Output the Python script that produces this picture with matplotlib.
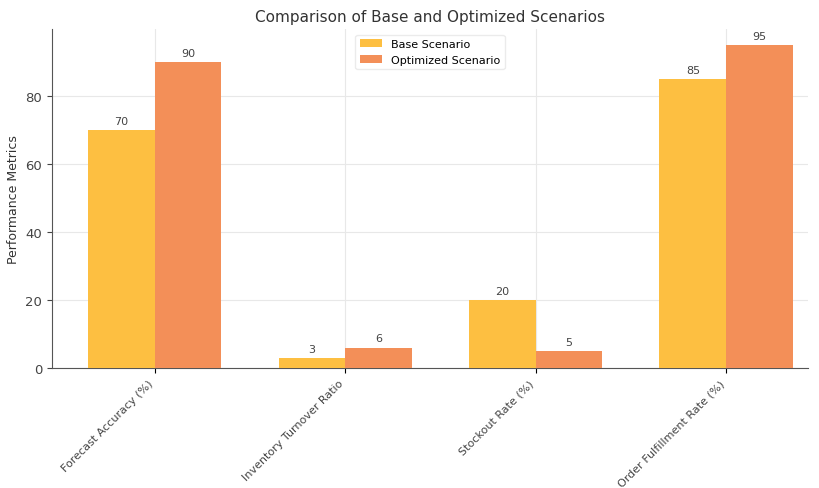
import numpy as np
import matplotlib.pyplot as plt

# data
metrics = ['Forecast Accuracy (%)', 'Inventory Turnover Ratio',
           'Stockout Rate (%)', 'Order Fulfillment Rate (%)']
base_scenario = [70, 3, 20, 85]
optimized_scenario = [90, 6, 5, 95]

x = np.arange(len(metrics))
width = 0.35

fig = plt.figure(figsize=(8.2, 4.89), dpi=100)
ax = fig.add_axes([0.0634, 0.2454, 0.922, 0.6933])

b1 = ax.bar(x - width / 2, base_scenario, width, label='Base Scenario',
            color='#FDBF41', zorder=3)
b2 = ax.bar(x + width / 2, optimized_scenario, width, label='Optimized Scenario',
            color='#F38F58', zorder=3)

ax.bar_label(b1, padding=3, fontsize=8, color='#444444')
ax.bar_label(b2, padding=3, fontsize=8, color='#444444')

ax.set_title('Comparison of Base and Optimized Scenarios', fontsize=11, color='#333333')
ax.set_ylabel('Performance Metrics', fontsize=9, color='#333333')
ax.set_xticks(x)
ax.set_xticklabels(metrics, rotation=45, ha='right', fontsize=8, color='#444444')
ax.tick_params(axis='y', labelsize=9.5, colors='#444444')
ax.set_xlim(-0.54, 3.43)

ax.grid(True, color='#e8e8e8', linewidth=0.8, zorder=0)
for s in ['top', 'right']:
    ax.spines[s].set_visible(False)
for s in ['left', 'bottom']:
    ax.spines[s].set_color('#555555')

ax.legend(loc='upper center', fontsize=8, frameon=True, edgecolor='#e6e6e6')

plt.savefig('out.png', dpi=100)
